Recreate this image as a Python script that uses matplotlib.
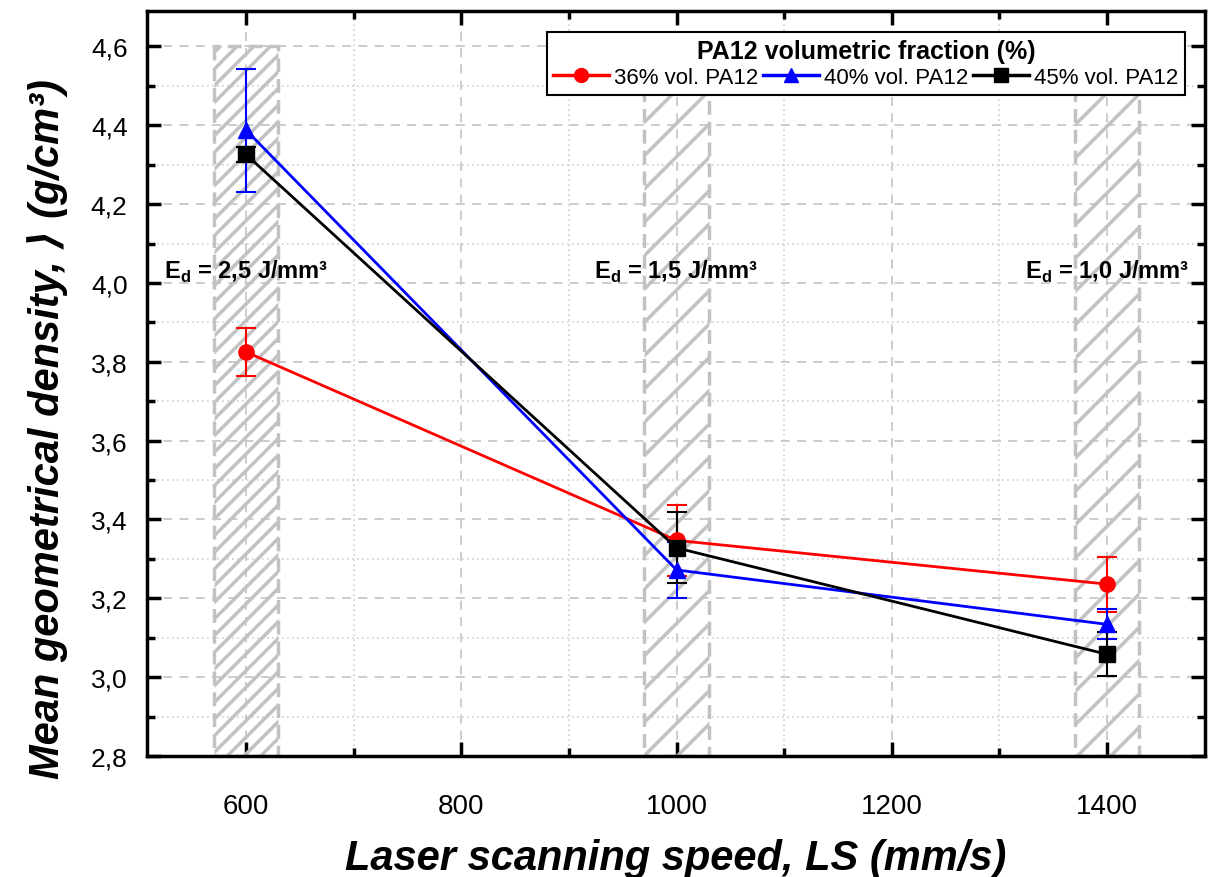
import matplotlib
matplotlib.use("Agg")
import matplotlib.pyplot as plt
from matplotlib.lines import Line2D
import numpy as np

speeds = [600, 1000, 1400]
labels = ["36% vol. PA12", "40% vol. PA12", "45% vol. PA12"]
dens_36 = [3.825, 3.347, 3.236]
err_36 = [0.06, 0.09, 0.07]
dens_40 = [4.388, 3.272, 3.134]
err_40 = [0.156, 0.072, 0.038]
dens_45 = [4.326, 3.328, 3.058]
err_45 = [0.02, 0.09, 0.056]
energy_labels = ["2,5", "1,5", "1,0"]

plt.rcParams["font.family"] = ["Liberation Sans", "DejaVu Sans"]
plt.rcParams["hatch.linewidth"] = 2.5
plt.rcParams["hatch.color"] = "#c2c2c2"

fig = plt.figure(figsize=(12.17, 8.78), dpi=100)
ax = fig.add_axes([147 / 1217, 1 - 757 / 878, (1205 - 147) / 1217, (757 - 12) / 878])

# hatched bands (denser at the first one, as in the original)
hatches = ["//", "/", "/"]
for s, h in zip(speeds, hatches):
    ax.fill_between([s - 30, s + 30], 2.8, 4.6, facecolor="none", edgecolor="#c2c2c2",
                    hatch=h, linewidth=2.5, linestyle=(0, (4, 2)), zorder=1)

series = [
    (dens_36, err_36, "red", "o"),
    (dens_40, err_40, "blue", "^"),
    (dens_45, err_45, "black", "s"),
]
handles = []
for (y, e, c, m), lab in zip(series, labels):
    ax.errorbar(speeds, y, yerr=e, color=c, marker=m, markersize=11, linewidth=2,
                elinewidth=1.5, capsize=7, capthick=1.5, zorder=3)
    handles.append(Line2D([], [], color=c, marker=m, markersize=10, linewidth=2.5, label=lab))

ax.set_xlim(508, 1491)
ax.set_ylim(2.8, 4.69)
ax.set_xticks([600, 800, 1000, 1200, 1400])
ax.set_xticks([700, 900, 1100, 1300], minor=True)
yt = np.arange(2.8, 4.61, 0.2)
ax.set_yticks(yt)
ax.set_yticklabels([f"{v:.1f}".replace(".", ",") for v in yt])
ax.set_yticks(np.arange(2.9, 4.7, 0.2), minor=True)
ax.tick_params(which="both", direction="in", top=True, right=True, width=2.5, labelsize=19)
ax.tick_params(which="major", length=10)
ax.tick_params(which="minor", length=6)
ax.tick_params(axis="x", pad=27, labelsize=20)
ax.tick_params(axis="y", pad=14)

ax.grid(which="major", color="#c8c8c8", linestyle=(0, (5, 4)), linewidth=1.3, zorder=0)
ax.grid(which="minor", color="#d0d0d0", linestyle=(0, (1, 2)), linewidth=1.2, zorder=0)
ax.set_axisbelow(True)
for sp in ax.spines.values():
    sp.set_linewidth(2.5)

for s, en in zip(speeds, energy_labels):
    ax.text(s, 4.03, r"E$_\mathregular{d}$ = " + en + " J/mm³", ha="center", va="center",
            fontsize=17, fontweight="bold", zorder=4)

ax.set_xlabel("Laser scanning speed, LS (mm/s)", fontsize=30, fontweight="bold",
              fontstyle="italic")
ax.xaxis.set_label_coords(0.5, -0.11)
ax.set_ylabel("Mean geometrical density, ⟩ (g/cm³)", fontsize=30, fontweight="bold",
              fontstyle="italic")
ax.yaxis.set_label_coords(-0.075, 0.44)

leg = ax.legend(handles=handles, loc="upper right", ncol=3,
                title="PA12 volumetric fraction (%)", fontsize=16, handlelength=2.5,
                handletextpad=0.25, columnspacing=0.2, fancybox=False, framealpha=1,
                edgecolor="black", borderpad=0.3, borderaxespad=0, labelspacing=0.2,
                bbox_to_anchor=(1 - 20 / 1058, 1 - 21 / 745))
leg.get_frame().set_linewidth(1.5)
leg.get_title().set_fontweight("bold")
leg.get_title().set_fontsize(18)
leg.set_zorder(5)

fig.savefig("out.png", dpi=100)
